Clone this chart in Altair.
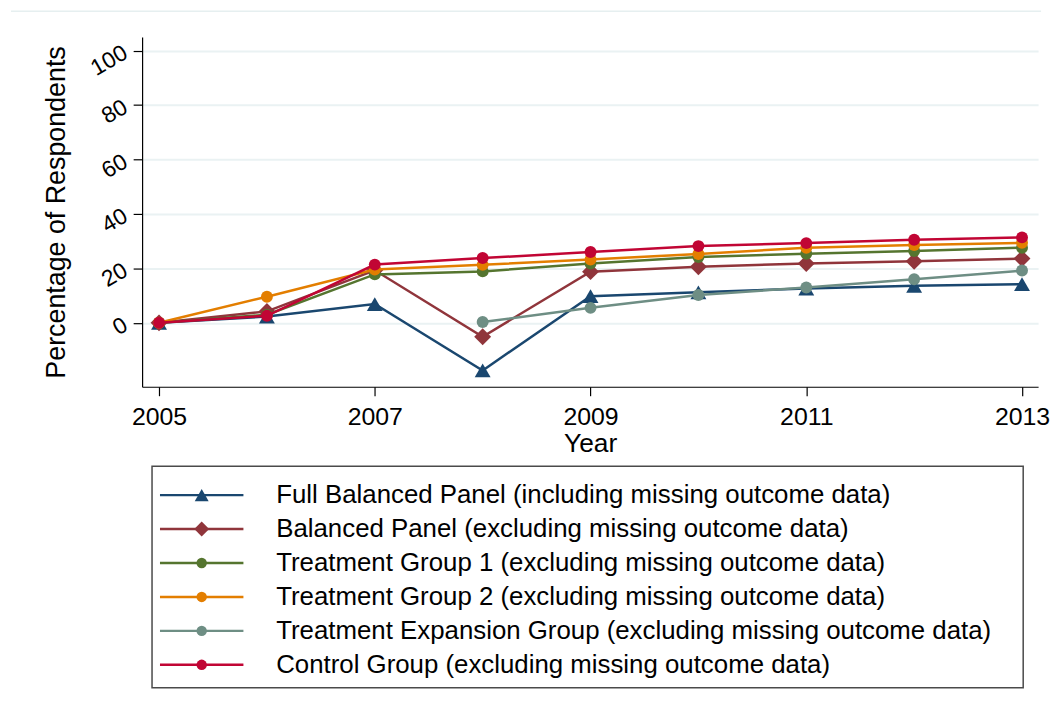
import altair as alt
import pandas as pd

years = [2005, 2006, 2007, 2008, 2009, 2010, 2011, 2012, 2013]
series_names = [
    "Full Balanced Panel (including missing outcome data)",
    "Balanced Panel (excluding missing outcome data)",
    "Treatment Group 1 (excluding missing outcome data)",
    "Treatment Group 2 (excluding missing outcome data)",
    "Treatment Expansion Group (excluding missing outcome data)",
    "Control Group (excluding missing outcome data)",
]
full_balanced = [0, 2.3, 6.9, -17.5, 9.8, 11.2, 12.6, 13.6, 14.2]
balanced = [0, 4.2, 19.3, -5.1, 18.8, 20.6, 21.8, 22.6, 23.6]
treatment1 = [0, 3.0, 17.8, 18.9, 21.8, 24.2, 25.4, 26.4, 27.6]
treatment2 = [0, 9.6, 19.6, 21.3, 23.3, 25.3, 27.6, 28.6, 29.4]
expansion = [None, None, None, 0.3, 5.5, 10.2, 13.0, 16.0, 19.2]
control = [0, 2.6, 21.4, 23.8, 26.0, 28.2, 29.3, 30.5, 31.4]

x_ticks = [2005, 2007, 2009, 2011, 2013]
y_ticks = [0, 20, 40, 60, 80, 100]

colors = ["#1a476f", "#90353b", "#55752f", "#e37e00", "#6e8e84", "#c10534"]
shapes = ["triangle-up", "diamond", "circle", "circle", "circle", "circle"]
plot_sizes = [256, 289, 144, 144, 144, 144]
legend_sizes = [196, 225, 110, 110, 110, 110]

FONT = "Liberation Sans"

all_values = [full_balanced, balanced, treatment1, treatment2, expansion, control]

X = alt.X(
    "year:Q",
    scale=alt.Scale(domain=[2004.843, 2013.149], nice=False, zero=False),
    axis=alt.Axis(
        values=x_ticks, format="d", title="Year", titleFontSize=26.5,
        labelFontSize=25, tickSize=9, labelPadding=9, titlePadding=1,
        grid=False,
    ),
)
Y = alt.Y(
    "value:Q",
    scale=alt.Scale(domain=[-23.5, 105], nice=False, zero=False),
    axis=alt.Axis(
        values=y_ticks, title="Percentage of Respondents", titleFontSize=27,
        labelFontSize=23, labelAngle=330, labelAlign="right",
        labelBaseline="middle", tickSize=9, labelPadding=8, titlePadding=16,
        grid=True,
    ),
)

# faint frame line at the top of the graph region
frame = alt.Chart(pd.DataFrame({"k": [0]})).mark_rule(
    color="#e6eff0", strokeWidth=1.5
).encode(x=alt.value(-132), x2=alt.value(905), y=alt.value(-26))

layers = [frame]
for name, vals, c, shp, sz in zip(series_names, all_values, colors, shapes, plot_sizes):
    rows = [(y, v) for y, v in zip(years, vals) if v is not None]
    d = pd.DataFrame({"year": [r[0] for r in rows], "value": [r[1] for r in rows], "series": name})
    layers.append(alt.Chart(d).mark_line(color=c, strokeWidth=2.5).encode(x=X, y=Y))
    layers.append(
        alt.Chart(d).mark_point(filled=True, opacity=1, color=c, shape=shp, size=sz).encode(x=X, y=Y)
    )

main = alt.layer(*layers).properties(width=902, height=352)

# ---- legend panel ----
leg_df = pd.DataFrame({"series": series_names})
ly = alt.Y("series:N", sort=series_names, axis=None, scale=alt.Scale(type="point", padding=0.5))
lcolor = alt.Color("series:N", scale=alt.Scale(domain=series_names, range=colors), legend=None)
lshape = alt.Shape("series:N", scale=alt.Scale(domain=series_names, range=shapes), legend=None)
lsize = alt.Size(
    "series:N",
    scale=alt.Scale(type="ordinal", domain=series_names, range=legend_sizes),
    legend=None,
)

box = alt.Chart(pd.DataFrame({"k": [0]})).mark_rect(
    fillOpacity=0, stroke="#4a4a4a", strokeWidth=1.5
).encode(x=alt.value(10), x2=alt.value(887), y=alt.value(-12), y2=alt.value(211))

rules = alt.Chart(leg_df).mark_rule(strokeWidth=2.5).encode(
    y=ly, x=alt.value(18), x2=alt.value(102), color=lcolor
)
pts = alt.Chart(leg_df).mark_point(filled=True, opacity=1).encode(
    y=ly, x=alt.value(60), color=lcolor, shape=lshape, size=lsize
)
txt = alt.Chart(leg_df).mark_text(
    align="left", baseline="middle", fontSize=26, font=FONT, color="black"
).encode(y=ly, x=alt.value(135), text="series:N")

legend = alt.layer(box, rules, pts, txt).properties(width=890, height=205)

chart = (
    alt.vconcat(main, legend, spacing=8)
    .properties(padding={"left": 2, "top": 0, "right": 2, "bottom": 5}, background="white")
    .configure_view(stroke=None)
    .configure_axis(
        domainColor="#000", tickColor="#000", labelColor="#000", titleColor="#000",
        labelFont=FONT, titleFont=FONT, titleFontWeight="normal",
        gridColor="#eaf2f3", gridWidth=2, domainWidth=1.2, tickWidth=1.2,
    )
)

chart.save("out.html", embed_options={"renderer": "svg", "actions": False})
